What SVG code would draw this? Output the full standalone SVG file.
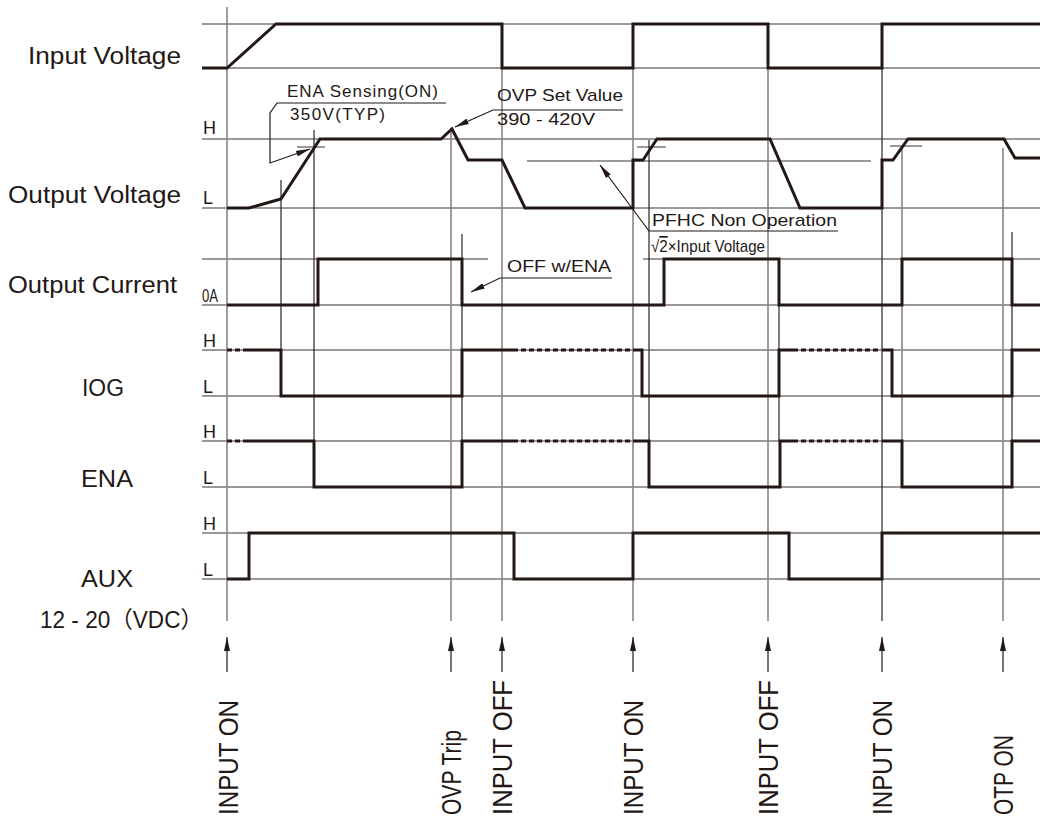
<svg xmlns="http://www.w3.org/2000/svg" width="1040" height="821" viewBox="0 0 1040 821">
<style>
.ref{stroke:#3a3535;stroke-width:1.2;fill:none}
.gv{stroke:#8a8585;stroke-width:1.6;fill:none}
.dv{stroke:#2a2525;stroke-width:1.2;fill:none}
.w{stroke:#231815;stroke-width:3;fill:none;stroke-linejoin:miter}
.dash{stroke:#231815;stroke-width:3;fill:none;stroke-dasharray:5 3}
.ld{stroke:#231815;stroke-width:1.2;fill:none}
text{font-family:"Liberation Sans","Noto Sans CJK JP",Arial,sans-serif;fill:#231815}
.lab{font-size:23px}
.hl{font-size:18px}
.ann{font-size:17px}
.ev{font-size:27px}
</style>
<defs>
<marker id="arr" markerUnits="userSpaceOnUse" markerWidth="14" markerHeight="6" refX="14" refY="3" orient="auto">
<path d="M0,0 L14,3 L0,6 z" fill="#231815"/>
</marker>
</defs>
<g id="reference-lines">
<path class="ref" d="M202,24H1040M202,68H1040M202,139H1040M202,208H1040M527,161H871M202,259H488M643,259H1040M202,305H1040M202,350H1040M202,396H1040M202,441H1040M202,487H1040M202,533H1040M202,579H1040"/>
<path class="ref" d="M297,147H325M637,147H666M890,146H922"/>
</g>
<g id="event-lines">
<path class="gv" d="M227,7V621M451,128V621M502,68V621M633,68V621M768,68V621M902,146V441M1003,148V621"/>
<path class="dv" d="M281,180V350M314,130V441M462,234V441M649,140V441M779,259V441M882,68V621M1012,232V441"/>
</g>
<g id="labels">
<text class="lab" x="181" y="64" text-anchor="end" textLength="153" lengthAdjust="spacingAndGlyphs">Input Voltage</text>
<text class="lab" x="181" y="203" text-anchor="end" textLength="173" lengthAdjust="spacingAndGlyphs">Output Voltage</text>
<text class="lab" x="177" y="293" text-anchor="end" textLength="169" lengthAdjust="spacingAndGlyphs">Output Current</text>
<text class="lab" x="82" y="396" textLength="42" lengthAdjust="spacingAndGlyphs">IOG</text>
<text class="lab" x="81" y="487" textLength="52" lengthAdjust="spacingAndGlyphs">ENA</text>
<text class="lab" x="81" y="587" textLength="52" lengthAdjust="spacingAndGlyphs">AUX</text>
<text class="lab" x="40" y="628" textLength="163" lengthAdjust="spacingAndGlyphs">12 - 20（VDC）</text>
<text class="hl" x="203" y="134">H</text>
<text class="hl" x="203" y="204">L</text>
<text class="hl" x="202" y="302" textLength="16" lengthAdjust="spacingAndGlyphs">0A</text>
<text class="hl" x="203" y="347">H</text>
<text class="hl" x="203" y="393">L</text>
<text class="hl" x="203" y="438">H</text>
<text class="hl" x="203" y="484">L</text>
<text class="hl" x="203" y="530">H</text>
<text class="hl" x="203" y="576">L</text>
</g>
<g id="input-voltage">
<path class="w" d="M202,68L227,68L276,24L502,24L502,68L633,68L633,24L768,24L768,68L882,68L882,24L1040,24"/>
</g>
<g id="output-voltage">
<path class="w" d="M227,208L249,208L281,199L320,139L441,139L452,129L468,160L502,160L525,208L633,208L633,160L643,160L657,139L770,139L800,208L882,208L882,160L893,160L908,139L1004,139L1015,158L1040,158"/>
</g>
<g id="output-current">
<path class="w" d="M227,305L318,305L318,259L462,259L462,305L664,305L664,259L779,259L779,305L902,305L902,259L1012,259L1012,305L1040,305"/>
</g>
<g id="iog">
<path class="w" d="M245,350L281,350L281,396L462,396L462,350L513,350M633,350L642,350L642,396L779,396L779,350L793,350M882,350L892,350L892,396L1012,396L1012,350L1040,350"/>
<path class="dash" d="M227,350H245M513,350H630M793,350H880"/>
</g>
<g id="ena">
<path class="w" d="M245,441L314,441L314,487L462,487L462,441L513,441M633,441L649,441L649,487L780,487L780,441L793,441M882,441L902,441L902,487L1012,487L1012,441L1040,441"/>
<path class="dash" d="M227,441H245M513,441H630M793,441H880"/>
</g>
<g id="aux">
<path class="w" d="M227,579L249,579L249,533L514,533L514,579L633,579L633,533L789,533L789,579L882,579L882,533L1040,533"/>
</g>
<g id="annotations">
<text class="ann" x="287" y="97" textLength="151" lengthAdjust="spacing">ENA Sensing(ON)</text>
<text class="ann" x="290" y="120" textLength="95" lengthAdjust="spacing">350V(TYP)</text>
<text class="ann" x="497" y="101" textLength="126" lengthAdjust="spacingAndGlyphs">OVP Set Value</text>
<text class="ann" x="497" y="125" textLength="98" lengthAdjust="spacingAndGlyphs">390 - 420V</text>
<text class="ann" x="507" y="272" textLength="104" lengthAdjust="spacingAndGlyphs">OFF w/ENA</text>
<text class="ann" x="652" y="226" textLength="185" lengthAdjust="spacingAndGlyphs">PFHC Non Operation</text>
<text x="651" y="252" font-size="17" textLength="114" lengthAdjust="spacingAndGlyphs">√<tspan text-decoration="overline">2</tspan>×Input Voltage</text>
</g>
<g id="connectors">
<path class="ld" d="M446,103H277L270,113V163L310,149" marker-end="url(#arr)"/>
<path class="ld" d="M623,110H493L455,127" marker-end="url(#arr)"/>
<path class="ld" d="M838,231H649L600,165" marker-end="url(#arr)"/>
<path class="ld" d="M612,278H500L471,292" marker-end="url(#arr)"/>
<path class="ld" d="M227,672V637" marker-end="url(#arr)"/>
<path class="ld" d="M451,672V637" marker-end="url(#arr)"/>
<path class="ld" d="M502,672V637" marker-end="url(#arr)"/>
<path class="ld" d="M633,672V637" marker-end="url(#arr)"/>
<path class="ld" d="M768,672V637" marker-end="url(#arr)"/>
<path class="ld" d="M882,672V637" marker-end="url(#arr)"/>
<path class="ld" d="M1003,672V637" marker-end="url(#arr)"/>
</g>
<g id="events">
<text class="ev" transform="translate(238,815) rotate(-90)" textLength="115" lengthAdjust="spacingAndGlyphs">INPUT ON</text>
<text class="ev" transform="translate(461,815) rotate(-90)" textLength="85" lengthAdjust="spacingAndGlyphs">OVP Trip</text>
<text class="ev" transform="translate(512,815) rotate(-90)" textLength="135" lengthAdjust="spacingAndGlyphs">INPUT OFF</text>
<text class="ev" transform="translate(643,815) rotate(-90)" textLength="115" lengthAdjust="spacingAndGlyphs">INPUT ON</text>
<text class="ev" transform="translate(778,815) rotate(-90)" textLength="135" lengthAdjust="spacingAndGlyphs">INPUT OFF</text>
<text class="ev" transform="translate(892,815) rotate(-90)" textLength="115" lengthAdjust="spacingAndGlyphs">INPUT ON</text>
<text class="ev" transform="translate(1013,815) rotate(-90)" textLength="80" lengthAdjust="spacingAndGlyphs">OTP ON</text>
</g>
</svg>
